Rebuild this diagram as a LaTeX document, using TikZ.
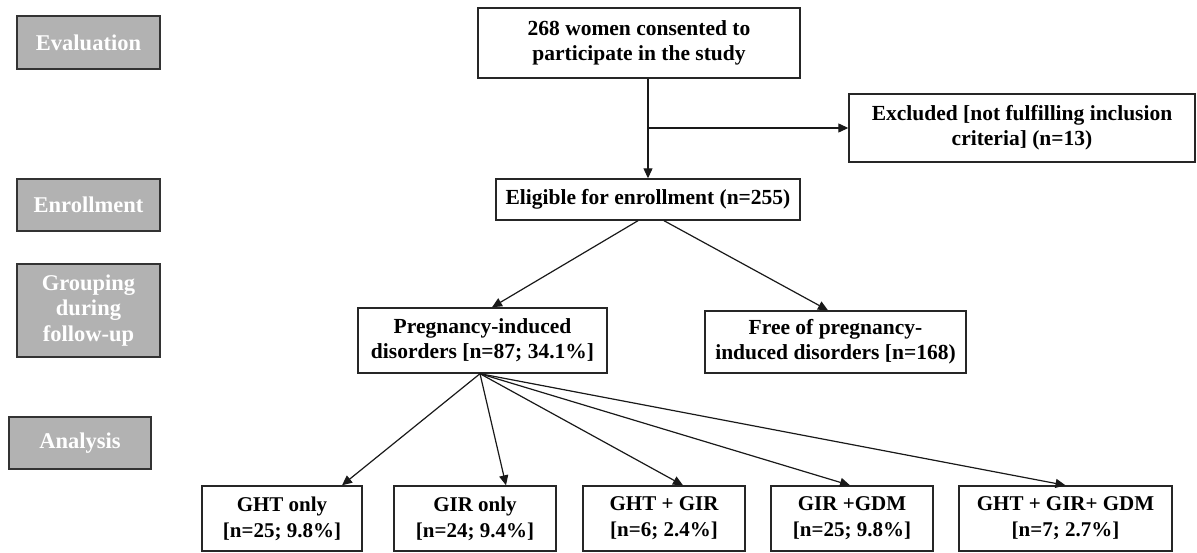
\documentclass[tikz,border=0pt]{standalone}
\usepackage{fontspec}
\setmainfont{Liberation Serif}
\usetikzlibrary{arrows.meta}
\begin{document}
\begin{tikzpicture}[x=1pt,y=-1pt,
  box/.style={draw=black!85, line width=1.4pt, fill=white, align=center, inner sep=0pt,
    font=\fontsize{21.5}{25}\selectfont\bfseries},
  lowbox/.style={box, font=\fontsize{21}{26}\selectfont\bfseries},
  stage/.style={draw=black!80, line width=1.4pt, fill=black!30, text=white, align=center,
    inner sep=0pt, font=\fontsize{22.5}{25.5}\selectfont\bfseries},
  arr/.style={draw=black!90, line width=1.2pt, -{Triangle[length=10pt,width=9pt]}}]
\useasboundingbox (0,0) rectangle (1197,552);
% stage labels
\node[stage, minimum width=143pt, minimum height=53pt] (eval) at (88.5,42.5) {Evaluation};
\node[stage, minimum width=143pt, minimum height=52pt] (enroll) at (88.5,205) {Enrollment};
\node[stage, minimum width=143pt, minimum height=93pt] (group) at (88.5,310.5) {Grouping\\during\\follow-up};
\node[stage, minimum width=142pt, minimum height=52pt] (anal) at (80,443) {Analysis};
% flow boxes
\node[box, minimum width=322pt, minimum height=70pt] (top) at (639,43) {268 women consented to\\participate in the study};
\node[box, minimum width=346pt, minimum height=68pt] (excl) at (1022,128) {Excluded [not fulfilling inclusion\\criteria] (n=13)};
\node[box, minimum width=304pt, minimum height=41pt] (elig) at (648,199.5) {Eligible for enrollment (n=255)};
\node[box, minimum width=249pt, minimum height=65pt] (preg) at (482.5,340.5) {Pregnancy-induced\\disorders [n=87; 34.1\%]};
\node[box, minimum width=261pt, minimum height=62pt] (free) at (835.5,342) {Free of pregnancy-\\induced disorders [n=168)};
\node[lowbox, minimum width=160pt, minimum height=65pt] (b1) at (282,518.5) {GHT only\\{}[n=25; 9.8\%]};
\node[lowbox, minimum width=162pt, minimum height=65pt] (b2) at (475,518.5) {GIR only\\{}[n=24; 9.4\%]};
\node[lowbox, minimum width=162pt, minimum height=65pt] (b3) at (664,518.5) {GHT + GIR\\{}[n=6; 2.4\%]};
\node[lowbox, minimum width=162pt, minimum height=65pt] (b4) at (852,518.5) {GIR +GDM\\{}[n=25; 9.8\%]};
\node[lowbox, minimum width=213pt, minimum height=65pt] (b5) at (1065.5,518.5) {GHT + GIR+ GDM\\{}[n=7; 2.7\%]};
% connectors
\draw[arr] (elig.north |- top.south) -- (elig.north);
\draw[arr] (elig.north |- excl.west) -- (excl.west);
\draw[arr] ([xshift=-10pt]elig.south) -- ([xshift=9.5pt]preg.north);
\draw[arr] ([xshift=16pt]elig.south) -- ([xshift=-7.5pt]free.north);
\coordinate (fan) at ([xshift=-2.5pt]preg.south);
\draw[arr] (fan) -- ([xshift=60pt]b1.north);
\draw[arr] (fan) -- ([xshift=31pt]b2.north);
\draw[arr] (fan) -- ([xshift=19pt]b3.north);
\draw[arr] (fan) -- ([xshift=-2pt]b4.north);
\draw[arr] (fan) -- ([xshift=0pt]b5.north);
\end{tikzpicture}
\end{document}
